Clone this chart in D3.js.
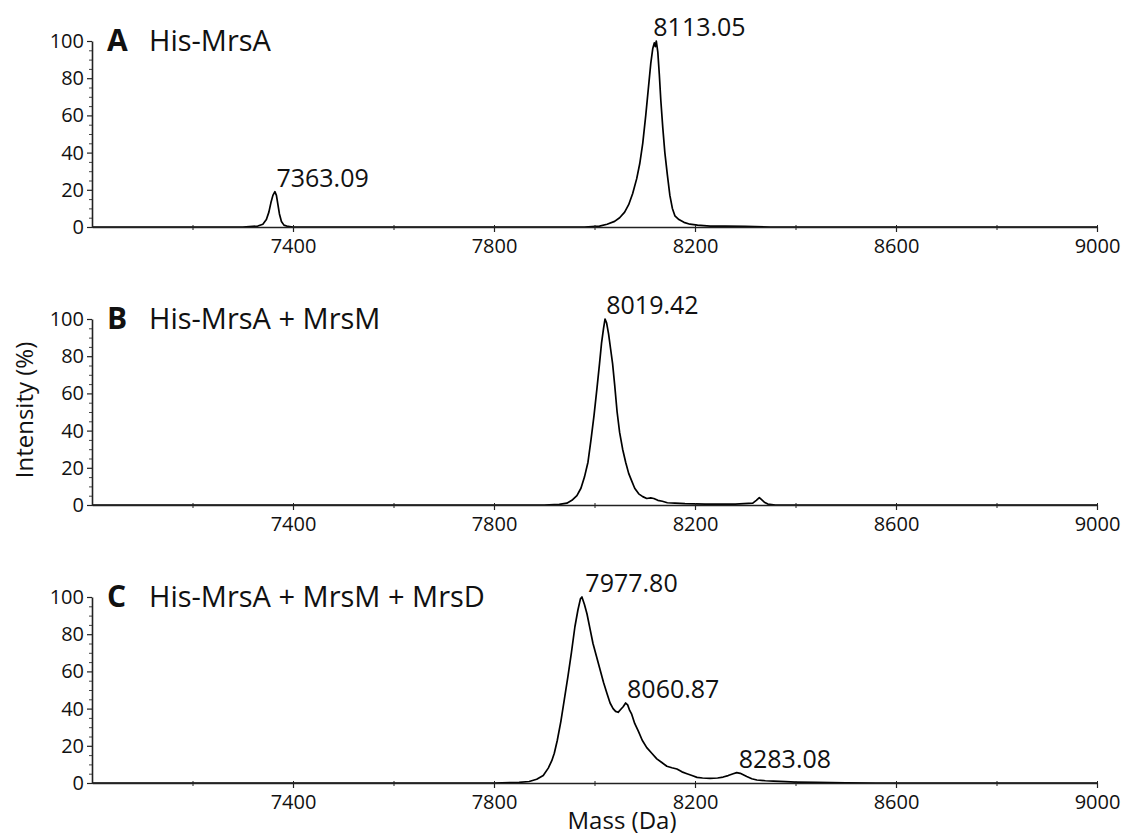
<!DOCTYPE html>
<html>
<head>
<meta charset="utf-8">
<script src="https://cdn.jsdelivr.net/npm/d3@7"></script>
<style>
  html, body { margin: 0; padding: 0; background: #fff; }
  svg { display: block; }
  text { font-family: "Open Sans", sans-serif; fill: #111; }
</style>
</head>
<body>
<svg id="chart" width="1123" height="837"></svg>
<script>
// ---------- data ----------
const massDomain = [7000, 9000];
const intensityDomain = [0, 100];
const xTickValues = [7400, 7800, 8200, 8600, 9000];
const xMinorTicks = [7200, 7400, 7600, 7800, 8000, 8200, 8400, 8600, 8800, 9000];
const yTickValues = [0, 20, 40, 60, 80, 100];
const yMinorTicks = [5, 10, 15, 25, 30, 35, 45, 50, 55, 65, 70, 75, 85, 90, 95];

const panelLetters = ["A", "B", "C"];
const panelTitles = ["His-MrsA", "His-MrsA + MrsM", "His-MrsA + MrsM + MrsD"];

// [mass (Da), intensity (%)]
const spectrumA = [
  [7000,0],[7300,0],[7330,0.5],[7340,1.5],[7347,4],[7352,8],[7356,13],[7360,17],[7364,19],[7367,17],
  [7370,12],[7373,7],[7377,3],[7382,1],[7390,0.3],[7400,0],
  [7980,0],[8010,0.5],[8025,1.5],[8040,3],[8050,5],[8060,8],[8068,12],[8076,18],[8084,26],[8090,34],
  [8096,45],[8102,60],[8107,74],[8112,88],[8116,96],[8119,99],[8121,97],[8123,100],[8126,94],[8129,82],
  [8132,68],[8136,53],[8140,40],[8145,28],[8150,17],[8155,10],[8160,6],[8168,4],[8178,2.5],[8190,1.5],
  [8205,1],[8230,0.5],[8260,0.5],[8300,0.3],[8350,0],[9000,0]
];
const spectrumB = [
  [7000,0],[7900,0],[7930,0.3],[7945,1],[7955,2.5],[7965,5],[7973,9],[7980,15],[7987,23],[7993,35],
  [7999,48],[8005,63],[8010,76],[8014,87],[8018,95],[8021,100],[8024,98],[8028,92],[8032,84],[8036,76],
  [8040,65],[8045,50],[8050,39],[8056,30],[8062,23],[8068,17],[8074,13],[8080,9],[8088,6],[8096,4.5],
  [8104,3.5],[8112,3.8],[8118,3.5],[8126,2.5],[8135,2],[8145,1.2],[8160,1],[8180,0.7],[8220,0.5],
  [8280,0.5],[8315,1],[8322,2.5],[8328,4],[8332,3],[8338,1.5],[8345,0.5],[8360,0],[9000,0]
];
const spectrumC = [
  [7000,0],[7800,0],[7850,0.3],[7870,0.8],[7885,2],[7898,4],[7908,8],[7915,12],[7920,16],[7926,23],
  [7933,33],[7940,45],[7947,57],[7954,70],[7961,84],[7967,93],[7972,99],[7975,100],[7980,96],[7985,91],
  [7991,83],[7997,75],[8004,68],[8011,61],[8018,54],[8025,48],[8031,43],[8037,40],[8042,38.5],[8047,38],
  [8052,39.5],[8057,41],[8062,43],[8066,42],[8070,39],[8074,37],[8080,32],[8087,28],[8095,23],[8104,19],
  [8114,16],[8124,13],[8134,11],[8144,9],[8154,8.2],[8164,7.5],[8174,6],[8184,5],[8194,4],[8204,3],
  [8215,2.7],[8230,2.5],[8245,2.7],[8256,3.2],[8266,4],[8276,5],[8283,5.6],[8290,5.2],[8297,4.3],
  [8303,3.5],[8313,2.3],[8323,1.6],[8340,1.2],[8356,1],[8380,0.7],[8400,0.5],[8440,0.3],[8500,0.1],
  [8560,0],[9000,0]
];
const spectra = [spectrumA, spectrumB, spectrumC];

// labelled peaks: [mass, peak intensity]
const peaksA = [[7363.09, 19], [8113.05, 100]];
const peaksB = [[8019.42, 100]];
const peaksC = [[7977.80, 100], [8060.87, 43], [8283.08, 5.6]];
const peakSets = [peaksA, peaksB, peaksC];

// ---------- layout ----------
const svg = d3.select("#chart");
const xLeft = 92, xRight = 1097;
const panelTops = [41, 319, 597];
const panelHeight = 186;

const x = d3.scaleLinear().domain(massDomain).range([xLeft, xRight]);

panelTops.forEach((top, i) => {
  const y = d3.scaleLinear().domain(intensityDomain).range([top + panelHeight, top]);
  const g = svg.append("g");

  // spectrum line
  const line = d3.line().x(d => x(d[0])).y(d => y(d[1]));
  g.append("path")
    .datum(spectra[i])
    .attr("fill", "none")
    .attr("stroke", "#000")
    .attr("stroke-width", 1.7)
    .attr("stroke-linejoin", "round")
    .attr("d", line);

  // x axis minor ticks
  const xMinor = g.append("g")
    .attr("transform", `translate(0,${y(0)})`)
    .call(d3.axisBottom(x).tickValues(xMinorTicks).tickSize(3).tickFormat(""));
  xMinor.select(".domain").remove();
  xMinor.selectAll("line").attr("stroke", "#222").attr("stroke-width", 1).attr("y1", -2);

  // x axis
  const xa = g.append("g")
    .attr("transform", `translate(0,${y(0)})`)
    .call(d3.axisBottom(x).tickValues(xTickValues).tickFormat(d3.format("d"))
      .tickSizeInner(5).tickSizeOuter(0).tickPadding(7));
  xa.select(".domain").attr("stroke", "#222").attr("stroke-width", 1.6);
  xa.selectAll("line").attr("stroke", "#222").attr("stroke-width", 1.2);
  xa.selectAll("text").attr("font-size", 20).attr("font-family", "Open Sans").attr("fill", "#111");

  // y minor ticks
  const yMinor = g.append("g")
    .attr("transform", `translate(${xLeft},0)`)
    .call(d3.axisLeft(y).tickValues(yMinorTicks).tickSize(3).tickFormat(""));
  yMinor.select(".domain").remove();
  yMinor.selectAll("line").attr("stroke", "#444").attr("stroke-width", 1);

  // y axis
  const ya = g.append("g")
    .attr("transform", `translate(${xLeft},0)`)
    .call(d3.axisLeft(y).tickValues(yTickValues).tickFormat(d3.format("d"))
      .tickSizeInner(5).tickSizeOuter(0).tickPadding(3));
  ya.select(".domain").attr("stroke", "#222").attr("stroke-width", 1.6);
  ya.selectAll("line").attr("stroke", "#222").attr("stroke-width", 1.2);
  ya.selectAll("text").attr("font-size", 20).attr("font-family", "Open Sans").attr("fill", "#111");

  // panel letter + title
  g.append("text")
    .attr("x", 107).attr("y", top + 10)
    .attr("font-size", 30).attr("font-weight", "bold")
    .text(panelLetters[i]);
  g.append("text")
    .attr("x", 149).attr("y", top + 10)
    .attr("font-size", 29)
    .text(panelTitles[i]);

  // peak labels
  g.selectAll("text.peak")
    .data(peakSets[i])
    .join("text")
    .attr("class", "peak")
    .attr("x", d => x(d[0]) + 2)
    .attr("y", d => y(d[1]) - 5)
    .attr("font-size", 25)
    .text(d => d[0].toFixed(2));
});

// axis titles
svg.append("text")
  .attr("transform", "translate(33,410) rotate(-90)")
  .attr("text-anchor", "middle")
  .attr("font-size", 24)
  .text("Intensity (%)");

svg.append("text")
  .attr("x", 622).attr("y", 829)
  .attr("text-anchor", "middle")
  .attr("font-size", 24)
  .text("Mass (Da)");
</script>
</body>
</html>
